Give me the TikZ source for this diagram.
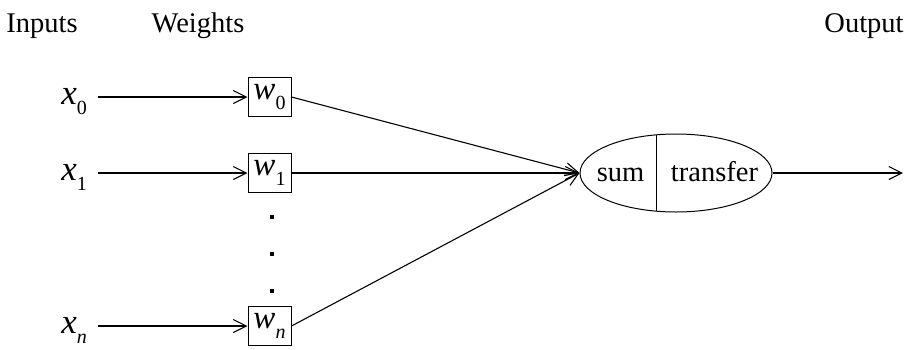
\documentclass[tikz,border=0pt]{standalone}
\usepackage{fontspec}
\setmainfont{Liberation Serif}
\usetikzlibrary{arrows.meta,shapes.geometric,calc}

% italic symbol with a subscript: \symsub{x}{0}
\newcommand{\symsub}[2]{\textit{#1}\raisebox{-0.3em}{\fontsize{20}{20}\selectfont #2}}

\tikzset{
  heading/.style={font=\fontsize{28.5}{28.5}\selectfont, anchor=base, inner sep=0pt},
  inlabel/.style={font=\fontsize{35}{35}\selectfont, anchor=base east, inner sep=0pt},
  weightbox/.style={draw, line width=1pt, minimum width=43pt, minimum height=39pt,
    inner sep=0pt, font=\fontsize{33}{33}\selectfont},
  neuronshape/.style={draw, ellipse, line width=1pt, minimum width=192pt,
    minimum height=78pt, inner sep=0pt},
  inner/.style={font=\fontsize{28.5}{28.5}\selectfont, inner sep=0pt, anchor=base},
  dotmark/.style={fill, minimum size=3.5pt, inner sep=0pt},
  link/.style={line width=1.1pt, -{Straight Barb[length=13pt,width=13pt,line width=1.1pt]}},
}

\begin{document}
\begin{tikzpicture}[x=1pt, y=-1pt]
  \useasboundingbox (0,0) rectangle (921,349);

  % column headings
  \node[heading] (hin)  at (42,32)  {Inputs};
  \node[heading] (hw)   at (198,32) {Weights};
  \node[heading] (hout) at (864,32) {Output};

  % input labels
  \node[inlabel] (x0) at (87,104) {\symsub{x}{0}};
  \node[inlabel] (x1) at (87,180) {\symsub{x}{1}};
  \node[inlabel] (xn) at (87,333) {\symsub{x}{\textit{n}}};

  % weight boxes
  \node[weightbox] (w0) at (269.5,97)  {\symsub{w}{0}};
  \node[weightbox] (w1) at (269.5,173) {\symsub{w}{1}};
  \node[weightbox] (wn) at (269.5,326) {\symsub{w}{\textit{n}}};

  % vertical ellipsis between w1 and wn
  \node[dotmark] (d1) at (272,217) {};
  \node[dotmark] (d2) at (272,254) {};
  \node[dotmark] (d3) at (272,291) {};

  % neuron: summation and transfer halves
  \node[neuronshape] (neuron) at (676,173) {};
  \draw[line width=1pt] ($(neuron.center)+(-20,-38.2)$) -- ($(neuron.center)+(-20,38.2)$);
  \node[inner] (sum)      at (620.5,181) {sum};
  \node[inner] (transfer) at (714.5,181) {transfer};

  \coordinate (out) at (903,173);

  % input connectors
  \draw[link] ([xshift=11pt]x0.base east |- w0.west) -- (w0.west);
  \draw[link] ([xshift=11pt]x1.base east |- w1.west) -- (w1.west);
  \draw[link] ([xshift=11pt]xn.base east |- wn.west) -- (wn.west);

  % weighted connectors into the neuron
  \draw[link] (w0.east) -- (neuron.west);
  \draw[link] (w1.east) -- (neuron.west);
  \draw[link] (wn.east) -- (neuron.west);

  % output connector
  \draw[link] (neuron.east) -- (out);
\end{tikzpicture}
\end{document}
